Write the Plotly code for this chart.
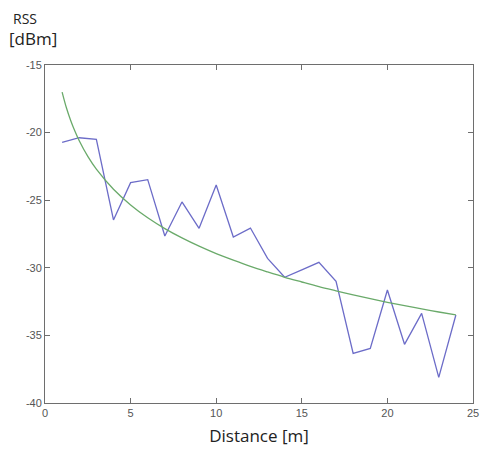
import plotly.graph_objects as go

distance = [1, 2, 3, 4, 5, 6, 7, 8, 9, 10, 11, 12, 13, 14, 15, 16, 17, 18, 19, 20, 21, 22, 23, 24]
rss_measured = [-20.72, -20.38, -20.5, -26.46, -23.7, -23.48, -27.65, -25.13, -27.08, -23.88,
                -27.72, -27.06, -29.3, -30.7, -30.15, -29.6, -31.0, -36.33, -35.96, -31.64,
                -35.66, -33.37, -38.1, -33.49]

fit_distance = [1, 1.25, 1.5, 1.75, 2, 2.5, 3, 4, 5, 6, 7, 8, 9, 10, 11, 12, 13, 14, 15, 16,
                17, 18, 19, 20, 21, 22, 23, 24]
rss_fit = [-17.0, -18.16, -19.10, -19.90, -20.60, -21.76, -22.70, -24.19, -25.35, -26.30,
           -27.10, -27.79, -28.40, -28.95, -29.44, -29.90, -30.31, -30.70, -31.05, -31.39,
           -31.70, -32.00, -32.28, -32.55, -32.80, -33.04, -33.27, -33.49]

x_ticks = [0, 5, 10, 15, 20, 25]
y_ticks = [-40, -35, -30, -25, -20, -15]

fig = go.Figure()
fig.add_trace(go.Scatter(x=distance, y=rss_measured, mode="lines",
                         line=dict(color="#6c6cc8", width=1.3), showlegend=False))
fig.add_trace(go.Scatter(x=fit_distance, y=rss_fit, mode="lines", line_shape="spline",
                         line=dict(color="#6aaa6a", width=1.3), showlegend=False))

axis_common = dict(showline=True, linecolor="#6e6e6e", linewidth=1, mirror="ticks",
                   ticks="inside", ticklen=5, tickcolor="#6e6e6e", showgrid=False,
                   zeroline=False, automargin=False,
                   tickfont=dict(family="Liberation Sans, Arial", size=11, color="#555555"))

fig.update_xaxes(range=[0, 25], tickvals=x_ticks, ticktext=[str(v) for v in x_ticks],
                 ticklabeloverflow="allow",
                 title=dict(text="Distance [m]", font=dict(family="Open Sans", size=17, color="#222222"),
                            standoff=11),
                 **axis_common)
fig.update_yaxes(range=[-40, -15], tickvals=y_ticks, ticktext=[str(v) for v in y_ticks],
                 **axis_common)

fig.add_annotation(text="RSS", xref="paper", yref="paper", x=0, y=1.0,
                   xshift=-20, yshift=47, xanchor="center", yanchor="middle", showarrow=False,
                   font=dict(family="Open Sans", size=14, color="#222222"))
fig.add_annotation(text="[dBm]", xref="paper", yref="paper", x=0, y=1.0,
                   xshift=-12, yshift=27, xanchor="center", yanchor="middle", showarrow=False,
                   font=dict(family="Open Sans", size=17, color="#222222"))

fig.update_layout(width=481, height=450, margin=dict(l=45, r=8, t=65, b=47),
                  plot_bgcolor="white", paper_bgcolor="white")

fig.write_html("out.html", config={"displayModeBar": False},
               post_script="document.body.style.margin='0';")
